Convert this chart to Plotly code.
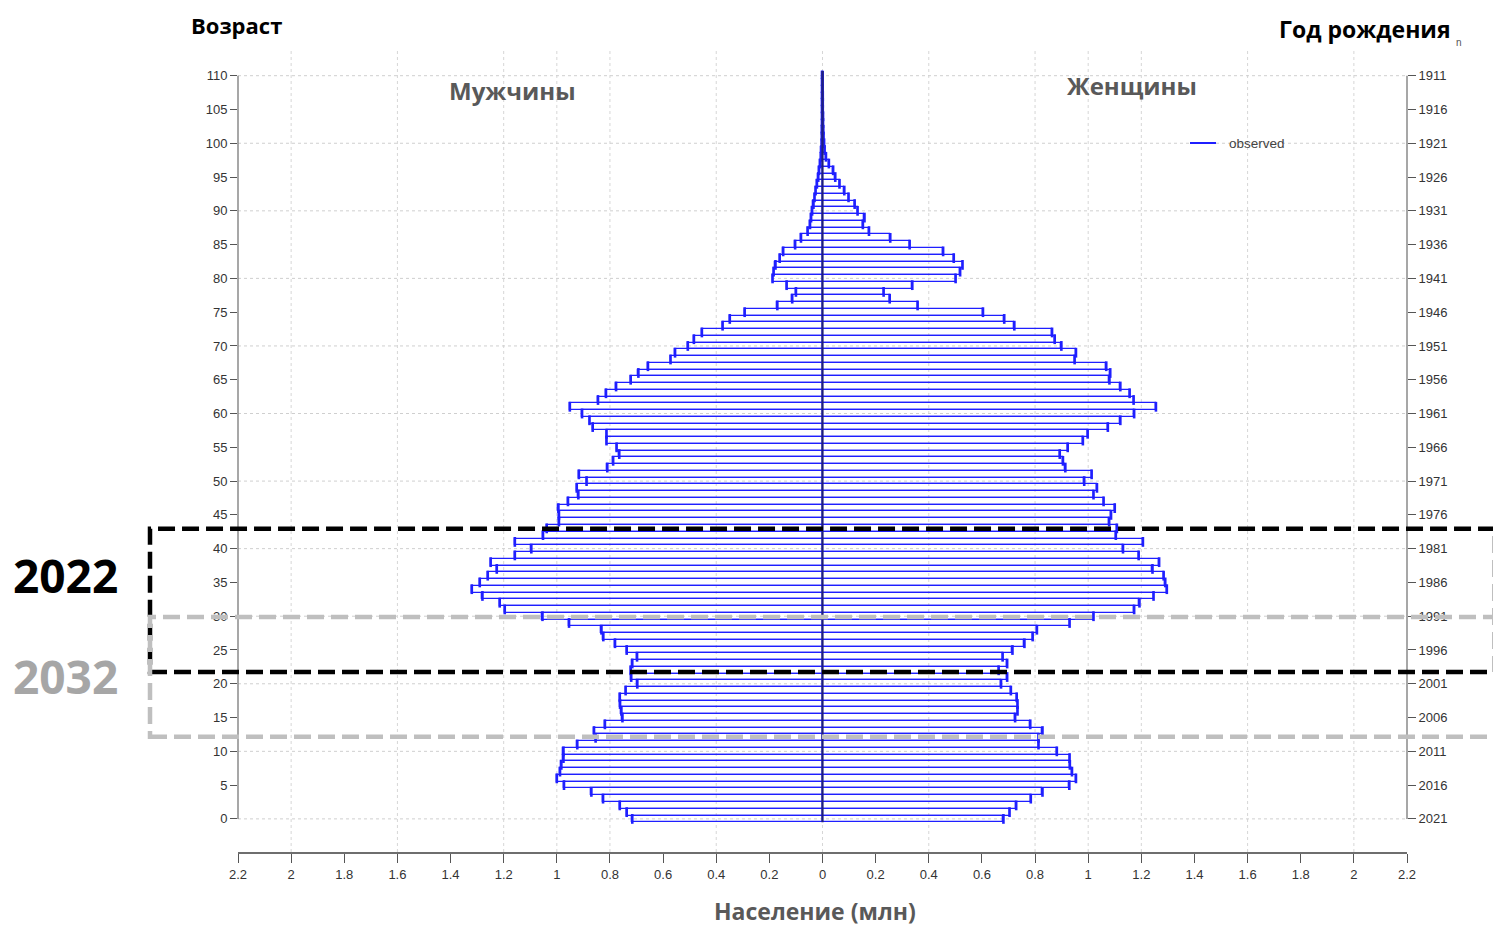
import plotly.graph_objects as go

# ---------------- data ----------------
ages = list(range(0, 111))

men = [0.716, 0.737, 0.763, 0.826, 0.870, 0.973, 1.000, 0.988, 0.983, 0.975,
       0.975, 0.923, 0.854, 0.860, 0.819, 0.753, 0.757, 0.762, 0.763, 0.741,
       0.697, 0.720, 0.722, 0.716, 0.698, 0.737, 0.781, 0.825, 0.832, 0.954,
       1.054, 1.196, 1.215, 1.280, 1.320, 1.290, 1.260, 1.226, 1.249, 1.158,
       1.096, 1.158, 1.052, 1.038, 0.992, 0.992, 0.994, 0.958, 0.919, 0.925,
       0.888, 0.917, 0.810, 0.788, 0.765, 0.775, 0.813, 0.813, 0.865, 0.877,
       0.905, 0.951, 0.845, 0.815, 0.777, 0.722, 0.693, 0.657, 0.572, 0.555,
       0.507, 0.484, 0.454, 0.376, 0.349, 0.293, 0.170, 0.114, 0.100, 0.135,
       0.188, 0.184, 0.177, 0.161, 0.148, 0.103, 0.081, 0.056, 0.047, 0.043,
       0.039, 0.034, 0.030, 0.026, 0.021, 0.016, 0.013, 0.009, 0.006, 0.004,
       0.003, 0.002, 0.002, 0.001, 0.001, 0.001, 0.001, 0.001, 0.0005, 0.0005,
       0.0005]

women = [0.681, 0.704, 0.729, 0.784, 0.828, 0.929, 0.954, 0.939, 0.931, 0.930,
         0.882, 0.813, 0.813, 0.828, 0.782, 0.725, 0.734, 0.734, 0.731, 0.709,
         0.672, 0.695, 0.663, 0.695, 0.678, 0.715, 0.760, 0.791, 0.807, 0.930,
         1.020, 1.173, 1.193, 1.246, 1.296, 1.290, 1.284, 1.242, 1.267, 1.190,
         1.131, 1.206, 1.104, 1.108, 1.079, 1.086, 1.100, 1.058, 1.020, 1.033,
         0.985, 1.013, 0.914, 0.905, 0.893, 0.923, 0.980, 0.998, 1.074, 1.121,
         1.173, 1.255, 1.171, 1.156, 1.121, 1.080, 1.083, 1.068, 0.949, 0.954,
         0.899, 0.874, 0.864, 0.722, 0.684, 0.604, 0.358, 0.253, 0.230, 0.338,
         0.501, 0.518, 0.527, 0.494, 0.454, 0.328, 0.255, 0.175, 0.152, 0.158,
         0.132, 0.121, 0.098, 0.082, 0.064, 0.048, 0.040, 0.024, 0.013, 0.008,
         0.006, 0.004, 0.003, 0.002, 0.002, 0.001, 0.001, 0.001, 0.0005, 0.0005,
         0.0005]

x_ticks = [-2.2, -2.0, -1.8, -1.6, -1.4, -1.2, -1.0, -0.8, -0.6, -0.4, -0.2, 0.0,
           0.2, 0.4, 0.6, 0.8, 1.0, 1.2, 1.4, 1.6, 1.8, 2.0, 2.2]
x_grid = [-2.0, -1.6, -1.2, -1.0, -0.8, -0.4, 0.0, 0.4, 0.8, 1.0, 1.2, 1.6, 2.0]
age_ticks = list(range(0, 111, 5))
age_grid = list(range(0, 111, 10))
ref_year = 2021
year_labels = [str(ref_year - a) for a in age_ticks]

# ---------------- geometry helpers ----------------
# the page body adds an 8px margin, so the figure is drawn 8px smaller and
# every screen position is shifted by that offset
OFF = 8
W, H = 1501 - OFF, 929 - OFF
PL, PR, PT, PB = 238, 1407, 48, 852          # plot-area edges in screen pixels
ML, MT = PL - OFF, PT - OFF
MR, MB = W - (PR - OFF), H - (PB - OFF)
PW, PH = PR - PL, PB - PT


def px(xp):
    return (xp - PL) / PW


def py(yp):
    return (PB - yp) / PH


BLUE = "#1f1fff"
tick_font = dict(family="Liberation Sans Narrow, Arial Narrow, Liberation Sans, Arial, sans-serif",
                 size=13, color="#333333")

fig = go.Figure()

fig.add_trace(go.Bar(
    y=ages, x=[-v for v in men], orientation="h",
    marker=dict(color="rgba(0,0,0,0)", line=dict(color=BLUE, width=1.3)),
    width=1, showlegend=False, hoverinfo="skip"))
fig.add_trace(go.Bar(
    y=ages, x=women, orientation="h",
    marker=dict(color="rgba(0,0,0,0)", line=dict(color=BLUE, width=1.3)),
    width=1, showlegend=False, hoverinfo="skip"))

# end caps of each bar
fig.add_trace(go.Scatter(
    y=ages + ages, x=[-v for v in men] + women, mode="markers",
    marker=dict(symbol="line-ns", size=7, line=dict(color=BLUE, width=2.6)),
    showlegend=False, hoverinfo="skip"))

# invisible trace for right axis
fig.add_trace(go.Scatter(y=[ages[0], ages[-1]], x=[0, 0], yaxis="y2", mode="markers",
                         marker=dict(opacity=0), showlegend=False, hoverinfo="skip"))

shapes = []
# grid lines
for g in age_grid:
    shapes.append(dict(type="line", xref="x", yref="y", x0=x_ticks[0], x1=x_ticks[-1], y0=g, y1=g,
                       line=dict(color="#cfcfcf", width=1, dash="dot"), layer="below"))
for g in x_grid:
    shapes.append(dict(type="line", xref="x", yref="paper", x0=g, x1=g, y0=0, y1=1,
                       line=dict(color="#d6d6d6", width=1, dash="dot"), layer="below"))
# axis lines (0..110 only)
for xp in (0, 1):
    shapes.append(dict(type="line", xref="paper", yref="y", x0=xp, x1=xp, y0=ages[0], y1=ages[-1],
                       line=dict(color="#8a8a8a", width=1.5)))
# central line
shapes.append(dict(type="line", xref="x", yref="y", x0=0, x1=0, y0=ages[0] - 0.5, y1=ages[-1] + 0.7,
                   line=dict(color="#20207a", width=2.2)))
# highlight boxes
shapes.append(dict(type="rect", xref="paper", yref="y", x0=px(150), x1=px(1495), y0=21.76, y1=42.93,
                   line=dict(color="#000000", width=4.5, dash="17px,7px"), fillcolor="rgba(0,0,0,0)"))
shapes.append(dict(type="rect", xref="paper", yref="y", x0=px(150), x1=px(1497), y0=12.14, y1=29.9,
                   line=dict(color="#bfbfbf", width=4.5, dash="17px,7px"), fillcolor="rgba(0,0,0,0)"))
# legend line
shapes.append(dict(type="line", xref="paper", yref="paper", x0=px(1190), x1=px(1216), y0=py(143), y1=py(143),
                   line=dict(color=BLUE, width=2)))

bold = "Open Sans, Noto Sans, sans-serif"
ann = [
    dict(text="<b>Возраст</b>", x=px(189), y=py(25), xanchor="left", yanchor="middle",
         font=dict(family=bold, size=22, color="#000000")),
    dict(text="<b>Год рождения</b>", x=px(1453), y=py(29), xanchor="right", yanchor="middle",
         font=dict(family=bold, size=23, color="#000000")),
    dict(text="n", x=px(1459), y=py(42), xanchor="center", yanchor="middle",
         font=dict(family="Liberation Sans", size=10, color="#555555")),
    dict(text="<b>Мужчины</b>", x=px(512), y=py(91), xanchor="center", yanchor="middle",
         font=dict(family=bold, size=24, color="#595959")),
    dict(text="<b>Женщины</b>", x=px(1132), y=py(85), xanchor="center", yanchor="middle",
         font=dict(family=bold, size=24, color="#595959")),
    dict(text="<b>Население (млн)</b>", x=px(815), y=py(911), xanchor="center", yanchor="middle",
         font=dict(family=bold, size=23, color="#595959")),
    dict(text="<b>2022</b>", x=px(65), y=py(575), xanchor="center", yanchor="middle",
         font=dict(family=bold, size=46, color="#000000")),
    dict(text="<b>2032</b>", x=px(65), y=py(676), xanchor="center", yanchor="middle",
         font=dict(family=bold, size=46, color="#a6a6a6")),
    dict(text="observed", x=px(1227), y=py(143), xanchor="left", yanchor="middle",
         font=dict(family="Liberation Sans, Arial, sans-serif", size=13.5, color="#444444")),
]
for a in ann:
    a.update(xref="paper", yref="paper", showarrow=False)

yrange = [-4.9, 114.1]
fig.update_layout(
    width=W, height=H,
    margin=dict(l=ML, r=MR, t=MT, b=MB, autoexpand=False),
    paper_bgcolor="white", plot_bgcolor="white",
    barmode="overlay", bargap=0,
    showlegend=False,
    shapes=shapes, annotations=ann,
    xaxis=dict(range=[x_ticks[0], x_ticks[-1]], tickvals=x_ticks,
               ticktext=[("%g" % abs(v)) for v in x_ticks],
               showgrid=False, zeroline=False, showline=True, linecolor="#6e6e6e", linewidth=2,
               ticks="outside", ticklen=9, tickcolor="#555555", tickwidth=1, tickfont=tick_font),
    yaxis=dict(range=yrange, tickvals=age_ticks, ticktext=[str(a) for a in age_ticks],
               showgrid=False, zeroline=False, showline=False,
               ticks="outside", ticklen=7, tickcolor="#555555", tickwidth=1.2, tickfont=tick_font),
    yaxis2=dict(range=yrange, overlaying="y", side="right", anchor="x",
                tickvals=age_ticks, ticktext=year_labels,
                showgrid=False, zeroline=False, showline=False,
                ticks="outside", ticklen=8, tickcolor="#555555", tickwidth=1.2, tickfont=tick_font),
)

fig.write_html("out.html")
